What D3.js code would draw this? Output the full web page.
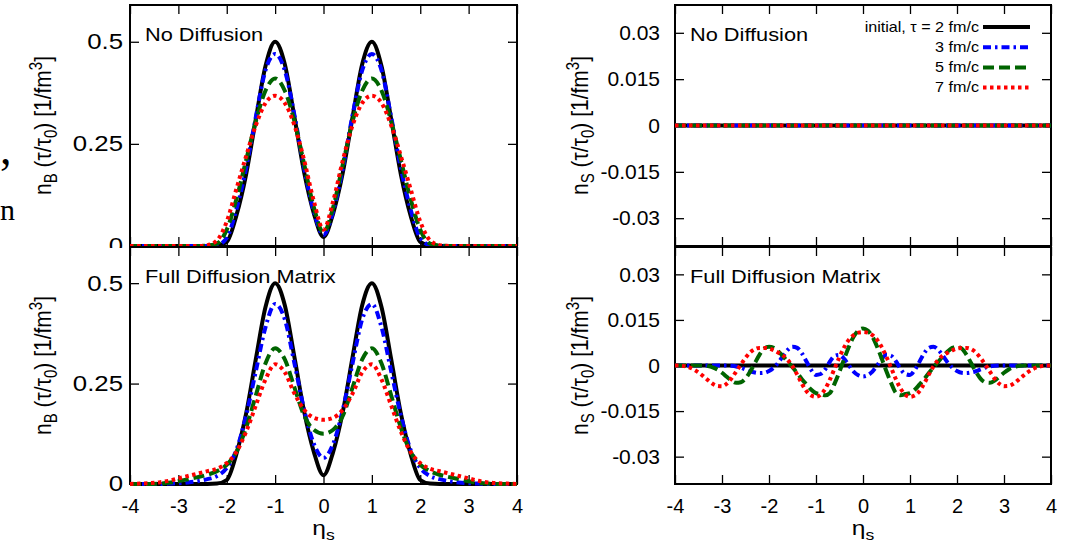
<!DOCTYPE html>
<html>
<head>
<meta charset="utf-8">
<script src="https://cdn.jsdelivr.net/npm/d3@7"></script>
<style>
  body { margin: 0; background: #fff; }
  svg { display: block; }
</style>
</head>
<body>
<svg id="chart" width="1081" height="547"></svg>
<script>
// eta grid for the n_B panels (step 0.2)
const etaB = [-4, -3.8, -3.6, -3.4, -3.2, -3, -2.8, -2.6, -2.4, -2.2,
  -2, -1.8, -1.6, -1.4, -1.2, -1, -0.8, -0.6, -0.4, -0.2, 0,
  0.2, 0.4, 0.6, 0.8, 1, 1.2, 1.4, 1.6, 1.8, 2,
  2.2, 2.4, 2.6, 2.8, 3, 3.2, 3.4, 3.6, 3.8, 4];

// n_B, no diffusion
const nbInit = [0, 0, 0, 0, 0, 0, 0, 0, 0, 0.001,
  0.01, 0.075, 0.175, 0.31, 0.44, 0.5, 0.445, 0.315, 0.18, 0.08, 0.022,
  0.08, 0.18, 0.315, 0.445, 0.5, 0.44, 0.31, 0.175, 0.075, 0.01,
  0.001, 0, 0, 0, 0, 0, 0, 0, 0, 0];
const nbNoDiff3 = [0, 0, 0, 0, 0, 0, 0, 0, 0, 0.002,
  0.02, 0.09, 0.19, 0.315, 0.43, 0.47, 0.43, 0.32, 0.19, 0.085, 0.027,
  0.085, 0.19, 0.32, 0.43, 0.47, 0.43, 0.315, 0.19, 0.09, 0.02,
  0.002, 0, 0, 0, 0, 0, 0, 0, 0, 0];
const nbNoDiff5 = [0, 0, 0, 0, 0, 0, 0, 0, 0.001, 0.006,
  0.04, 0.115, 0.21, 0.305, 0.38, 0.41, 0.38, 0.305, 0.2, 0.095, 0.033,
  0.095, 0.2, 0.305, 0.38, 0.41, 0.38, 0.305, 0.21, 0.115, 0.04,
  0.006, 0.001, 0, 0, 0, 0, 0, 0, 0, 0];
const nbNoDiff7 = [0, 0, 0, 0, 0, 0, 0, 0, 0.002, 0.014,
  0.06, 0.14, 0.22, 0.295, 0.35, 0.368, 0.35, 0.295, 0.21, 0.11, 0.04,
  0.11, 0.21, 0.295, 0.35, 0.368, 0.35, 0.295, 0.22, 0.14, 0.06,
  0.014, 0.002, 0, 0, 0, 0, 0, 0, 0, 0];

// n_B, full diffusion matrix
const nbFull3 = [0, 0, 0, 0, 0.001, 0.002, 0.004, 0.007, 0.012, 0.02,
  0.04, 0.085, 0.17, 0.28, 0.39, 0.448, 0.41, 0.3, 0.185, 0.1, 0.065,
  0.1, 0.185, 0.3, 0.41, 0.448, 0.39, 0.28, 0.17, 0.085, 0.04,
  0.02, 0.012, 0.007, 0.004, 0.002, 0.001, 0, 0, 0, 0];
const nbFull5 = [0, 0, 0, 0.001, 0.003, 0.007, 0.012, 0.017, 0.023, 0.032,
  0.048, 0.08, 0.14, 0.22, 0.3, 0.338, 0.31, 0.24, 0.17, 0.135, 0.125,
  0.135, 0.17, 0.24, 0.31, 0.338, 0.3, 0.22, 0.14, 0.08, 0.048,
  0.032, 0.023, 0.017, 0.012, 0.007, 0.003, 0.001, 0, 0, 0];
const nbFull7 = [0, 0.001, 0.002, 0.004, 0.008, 0.014, 0.02, 0.026, 0.032, 0.038,
  0.052, 0.08, 0.13, 0.195, 0.26, 0.298, 0.278, 0.225, 0.185, 0.165, 0.16,
  0.165, 0.185, 0.225, 0.278, 0.298, 0.26, 0.195, 0.13, 0.08, 0.052,
  0.038, 0.032, 0.026, 0.02, 0.014, 0.008, 0.004, 0.002, 0.001, 0];

// eta grid for the n_S panels (step 0.1)
const etaS = [-4, -3.9, -3.8, -3.7, -3.6, -3.5, -3.4, -3.3, -3.2, -3.1,
  -3, -2.9, -2.8, -2.7, -2.6, -2.5, -2.4, -2.3, -2.2, -2.1,
  -2, -1.9, -1.8, -1.7, -1.6, -1.5, -1.4, -1.3, -1.2, -1.1,
  -1, -0.9, -0.8, -0.7, -0.6, -0.5, -0.4, -0.3, -0.2, -0.1, 0,
  0.1, 0.2, 0.3, 0.4, 0.5, 0.6, 0.7, 0.8, 0.9, 1,
  1.1, 1.2, 1.3, 1.4, 1.5, 1.6, 1.7, 1.8, 1.9, 2,
  2.1, 2.2, 2.3, 2.4, 2.5, 2.6, 2.7, 2.8, 2.9, 3,
  3.1, 3.2, 3.3, 3.4, 3.5, 3.6, 3.7, 3.8, 3.9, 4];

// n_S stays zero without diffusion (and for the initial state)
const etaZero = [-4, 4];
const nsZero = [0, 0];

// n_S, full diffusion matrix
const nsFull3 = [0, 0, 0, 0, 0, 0, 0, 0, 0, 0, 0, 0,
  -0.0001, -0.0003, -0.0007, -0.0013, -0.0019, -0.0023, -0.0025, -0.0024, -0.0018, -0.0007,
  0.001, 0.0032, 0.0052, 0.0062, 0.0058, 0.004, 0.0012, -0.0015, -0.0031, -0.0028,
  -0.0012, 0.0014, 0.0032, 0.0035, 0.0022, 0, -0.002, -0.0032,
  -0.0036,
  -0.0032, -0.002, 0, 0.0022, 0.0035, 0.0032, 0.0014, -0.0012,
  -0.0028, -0.0031, -0.0015, 0.0012, 0.004, 0.0058, 0.0062, 0.0052, 0.0032, 0.001,
  -0.0007, -0.0018, -0.0024, -0.0025, -0.0023, -0.0019, -0.0013, -0.0007, -0.0003, -0.0001,
  0, 0, 0, 0, 0, 0, 0, 0, 0, 0, 0, 0];
const nsFull5 = [0, 0, 0, 0, 0, 0, 0,
  -0.0002, -0.0006, -0.0013, -0.0024, -0.0037, -0.005, -0.0057, -0.0055, -0.0043, -0.002,
  0.0008, 0.0036, 0.0056, 0.0062, 0.0058, 0.0046, 0.003, 0.0012, -0.0006, -0.0025,
  -0.0045, -0.0063, -0.008, -0.0091, -0.0094, -0.0098, -0.009, -0.0058, -0.002, 0.0022,
  0.0062, 0.0095, 0.0115,
  0.0122,
  0.0115, 0.0095, 0.0062,
  0.0022, -0.002, -0.0058, -0.009, -0.0098, -0.0094, -0.0091, -0.008, -0.0063, -0.0045,
  -0.0025, -0.0006, 0.0012, 0.003, 0.0046, 0.0058, 0.0062, 0.0056, 0.0036, 0.0008,
  -0.002, -0.0043, -0.0055, -0.0057, -0.005, -0.0037, -0.0024, -0.0013, -0.0006, -0.0002,
  0, 0, 0, 0, 0, 0, 0];
const nsFull7 = [0, 0, -0.0002, -0.0006, -0.0013, -0.0023, -0.0035, -0.0048, -0.006, -0.0067,
  -0.0068, -0.006, -0.0043, -0.002, 0.0003, 0.0025, 0.0043, 0.0054, 0.0058, 0.0058,
  0.0056, 0.005, 0.0042, 0.0033, 0.0018, -0.0003, -0.003, -0.006, -0.0085, -0.0099,
  -0.0103, -0.0096, -0.0076, -0.0045, -0.0008, 0.0028, 0.006, 0.0085, 0.01, 0.0108,
  0.011,
  0.0108, 0.01, 0.0085, 0.006, 0.0028, -0.0008, -0.0045, -0.0076, -0.0096, -0.0103,
  -0.0099, -0.0085, -0.006, -0.003, -0.0003, 0.0018, 0.0033, 0.0042, 0.005, 0.0056,
  0.0058, 0.0058, 0.0054, 0.0043, 0.0025, 0.0003, -0.002, -0.0043, -0.006, -0.0068,
  -0.0067, -0.006, -0.0048, -0.0035, -0.0023, -0.0013, -0.0006, -0.0002, 0, 0];

const seriesNames = ["initial, τ = 2 fm/c", "3 fm/c", "5 fm/c", "7 fm/c"];
const etaTicks = [-4, -3, -2, -1, 0, 1, 2, 3, 4];
const nbTicks = [0, 0.25, 0.5];
const nsTicks = [-0.03, -0.015, 0, 0.015, 0.03];

const FONT = '"Liberation Sans", Arial, Helvetica, sans-serif';
const SX = 1.17; // the figure was stretched sideways, so the text is too

const lineStyles = [
  { color: "#000000", dash: null },
  { color: "#0000ff", dash: "8,4,2.5,4" },
  { color: "#006400", dash: "11,5" },
  { color: "#ff0000", dash: "3.5,3.5" }
];

const svg = d3.select("#chart");

// stray characters of the surrounding page text at the left edge
svg.append("text").attr("x", 0).attr("y", 164)
  .attr("font-family", '"Liberation Serif", serif').attr("font-size", 46).text(",");
svg.append("text").attr("x", 0).attr("y", 220)
  .attr("font-family", '"Liberation Serif", serif').attr("font-size", 30).text("n");

function styleAxis(a) {
  a.select(".domain").remove();
  a.attr("font-family", FONT);
  a.selectAll(".tick line").attr("stroke", "#000").attr("stroke-width", 1.3);
  a.selectAll(".tick text").attr("fill", "#000");
}

function drawPanel(p) {
  const x = d3.scaleLinear().domain([-4, 4]).range([p.left, p.right]);
  const y = d3.scaleLinear().domain(p.yDomain).range([p.bottom, p.top]);
  const g = svg.append("g");

  if (p.cover) {
    g.append("rect")
      .attr("x", p.left - 45).attr("y", p.top + 1)
      .attr("width", p.right - p.left + 45).attr("height", p.bottom - p.top)
      .attr("fill", "#fff");
  }

  g.append("rect")
    .attr("x", p.left).attr("y", p.top)
    .attr("width", p.right - p.left).attr("height", p.bottom - p.top)
    .attr("fill", "none").attr("stroke", "#000").attr("stroke-width", 2);

  g.append("g")
    .attr("transform", "translate(0," + p.bottom + ")")
    .call(d3.axisBottom(x).tickValues(etaTicks).tickSizeInner(-9).tickSizeOuter(0)
      .tickPadding(15).tickFormat(p.xLabels ? d => String(d) : ""))
    .call(styleAxis)
    .attr("font-size", 20);

  g.append("g")
    .attr("transform", "translate(0," + p.top + ")")
    .call(d3.axisTop(x).tickValues(etaTicks).tickSizeInner(-9).tickSizeOuter(0).tickFormat(""))
    .call(styleAxis);

  g.append("g")
    .attr("transform", "translate(" + p.left + ",0)")
    .call(d3.axisLeft(y).tickValues(p.yTicks).tickSizeInner(-9).tickSizeOuter(0)
      .tickPadding(p.pad).tickFormat(d => String(d)))
    .call(styleAxis)
    .attr("font-size", p.tickSize)
    .selectAll("text")
    .attr("x", -p.pad / p.tickSX)
    .attr("transform", "scale(" + p.tickSX + ",1)");

  g.append("g")
    .attr("transform", "translate(" + p.right + ",0)")
    .call(d3.axisRight(y).tickValues(p.yTicks).tickSizeInner(-9).tickSizeOuter(0).tickFormat(""))
    .call(styleAxis);

  const line = d3.line()
    .x(d => x(d[0]))
    .y(d => y(d[1]))
    .curve(d3.curveMonotoneX);

  p.series.forEach((s, i) => {
    const st = lineStyles[i];
    g.append("path")
      .datum(d3.zip(s.eta, s.values))
      .attr("d", line)
      .attr("fill", "none")
      .attr("stroke", st.color)
      .attr("stroke-width", 4)
      .attr("stroke-dasharray", st.dash);
  });

  g.append("text")
    .attr("transform", "translate(" + (p.left + 15) + "," + (p.top + 36) + ") scale(" + SX + ",1)")
    .attr("font-family", FONT).attr("font-size", 18.6)
    .text(p.title);

  const yl = g.append("text")
    .attr("transform", "translate(" + p.ylabX + "," + (p.top + p.bottom) / 2 + ") scale(" + SX + ",1) rotate(-90)")
    .attr("text-anchor", "middle")
    .attr("font-family", FONT).attr("font-size", 21);
  yl.append("tspan").text("n");
  yl.append("tspan").attr("font-size", 15).attr("dy", 5).text(p.sub);
  yl.append("tspan").attr("dy", -5).text(" (τ/τ");
  yl.append("tspan").attr("font-size", 15).attr("dy", 5).text("0");
  yl.append("tspan").attr("dy", -5).text(") [1/fm");
  yl.append("tspan").attr("font-size", 15).attr("dy", -8).text("3");
  yl.append("tspan").attr("dy", 8).text("]");

  if (p.xLabels) {
    const xl = g.append("text")
      .attr("transform", "translate(" + (p.left + p.right) / 2 + ",535) scale(" + SX + ",1)")
      .attr("text-anchor", "middle")
      .attr("font-family", FONT).attr("font-size", 21);
    xl.append("tspan").text("η");
    xl.append("tspan").attr("font-size", 15).attr("dy", 5).text("s");
  }

  if (p.legend) {
    seriesNames.forEach((name, i) => {
      const ly = p.top + 22 + i * 20.2;
      g.append("text")
        .attr("transform", "translate(979," + (ly + 4.5) + ") scale(" + SX + ",1)")
        .attr("text-anchor", "end")
        .attr("font-family", FONT).attr("font-size", 13.8)
        .text(name);
      g.append("line")
        .attr("x1", 983).attr("x2", 1030).attr("y1", ly).attr("y2", ly)
        .attr("stroke", lineStyles[i].color)
        .attr("stroke-width", 4)
        .attr("stroke-dasharray", lineStyles[i].dash);
    });
  }
}

// top row
drawPanel({
  left: 130, right: 517, top: 5, bottom: 246,
  yDomain: [0, 0.59], yTicks: nbTicks, pad: 7, tickSize: 21.5, tickSX: 1.2,
  ylabX: 51, sub: "B",
  title: "No Diffusion", xLabels: false,
  series: [
    { eta: etaB, values: nbInit },
    { eta: etaB, values: nbNoDiff3 },
    { eta: etaB, values: nbNoDiff5 },
    { eta: etaB, values: nbNoDiff7 }
  ]
});
drawPanel({
  left: 675, right: 1051, top: 5, bottom: 246,
  yDomain: [-0.039, 0.039], yTicks: nsTicks, pad: 15, tickSize: 21, tickSX: 1.0,
  ylabX: 588, sub: "S",
  title: "No Diffusion", xLabels: false, legend: true,
  series: [
    { eta: etaZero, values: nsZero },
    { eta: etaZero, values: nsZero },
    { eta: etaZero, values: nsZero },
    { eta: etaZero, values: nsZero }
  ]
});

// bottom row
drawPanel({
  left: 130, right: 517, top: 247, bottom: 484, cover: true,
  yDomain: [0, 0.59], yTicks: nbTicks, pad: 7, tickSize: 21.5, tickSX: 1.2,
  ylabX: 51, sub: "B",
  title: "Full Diffusion Matrix", xLabels: true,
  series: [
    { eta: etaB, values: nbInit },
    { eta: etaB, values: nbFull3 },
    { eta: etaB, values: nbFull5 },
    { eta: etaB, values: nbFull7 }
  ]
});
drawPanel({
  left: 675, right: 1051, top: 247, bottom: 484, cover: true,
  yDomain: [-0.039, 0.039], yTicks: nsTicks, pad: 15, tickSize: 21, tickSX: 1.0,
  ylabX: 588, sub: "S",
  title: "Full Diffusion Matrix", xLabels: true,
  series: [
    { eta: etaZero, values: nsZero },
    { eta: etaS, values: nsFull3 },
    { eta: etaS, values: nsFull5 },
    { eta: etaS, values: nsFull7 }
  ]
});
</script>
</body>
</html>
